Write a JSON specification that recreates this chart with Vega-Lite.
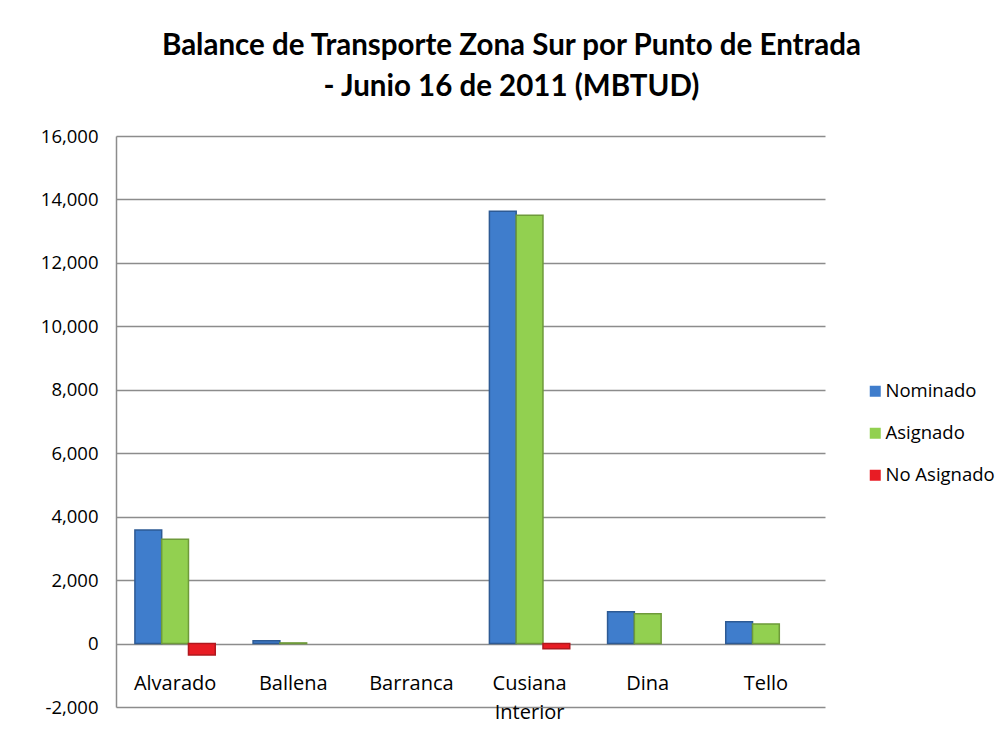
{
  "$schema": "https://vega.github.io/schema/vega-lite/v6.json",
  "width": 709,
  "height": 571,
  "autosize": {"type": "none"},
  "padding": {"left": 116, "top": 136, "right": 181, "bottom": 43},
  "background": "white",
  "title": {
    "text": ["Balance de Transporte Zona Sur por Punto de Entrada", "- Junio 16 de 2011 (MBTUD)"],
    "font": "Lato",
    "fontSize": 29.5,
    "fontWeight": "bold",
    "color": "#000000",
    "lineHeight": 41,
    "anchor": "middle",
    "frame": "group",
    "dx": 41,
    "offset": 25
  },
  "config": {
    "view": {"stroke": null},
    "axis": {"labelFont": "Open Sans", "labelColor": "#000000"}
  },
  "data": {
    "values": [
      {"punto": "Alvarado", "serie": "Nominado", "valor": 3580},
      {"punto": "Alvarado", "serie": "Asignado", "valor": 3290},
      {"punto": "Alvarado", "serie": "No Asignado", "valor": -360},
      {"punto": "Ballena", "serie": "Nominado", "valor": 90},
      {"punto": "Ballena", "serie": "Asignado", "valor": 20},
      {"punto": "Ballena", "serie": "No Asignado", "valor": 0},
      {"punto": "Barranca", "serie": "Nominado", "valor": 0},
      {"punto": "Barranca", "serie": "Asignado", "valor": 0},
      {"punto": "Barranca", "serie": "No Asignado", "valor": 0},
      {"punto": "Cusiana Interior", "serie": "Nominado", "valor": 13630},
      {"punto": "Cusiana Interior", "serie": "Asignado", "valor": 13500},
      {"punto": "Cusiana Interior", "serie": "No Asignado", "valor": -160},
      {"punto": "Dina", "serie": "Nominado", "valor": 1000},
      {"punto": "Dina", "serie": "Asignado", "valor": 940},
      {"punto": "Dina", "serie": "No Asignado", "valor": 0},
      {"punto": "Tello", "serie": "Nominado", "valor": 690},
      {"punto": "Tello", "serie": "Asignado", "valor": 620},
      {"punto": "Tello", "serie": "No Asignado", "valor": 0}
    ]
  },
  "mark": {"type": "bar", "strokeWidth": 1.5},
  "encoding": {
    "x": {
      "field": "punto",
      "type": "nominal",
      "sort": null,
      "scale": {"paddingInner": 0.32, "paddingOuter": 0.16},
      "axis": {
        "title": null,
        "labelAngle": 0,
        "domain": false,
        "ticks": false,
        "offset": -63.5,
        "labelPadding": 30,
        "labelFontSize": 20,
        "labelExpr": "split(datum.value, ' ')",
        "labelLineHeight": 29
      }
    },
    "xOffset": {
      "field": "serie",
      "type": "nominal",
      "sort": ["Nominado", "Asignado", "No Asignado"]
    },
    "y": {
      "field": "valor",
      "type": "quantitative",
      "scale": {"domain": [-2000, 16000], "nice": false, "zero": false},
      "axis": {
        "title": null,
        "values": [-2000, 0, 2000, 4000, 6000, 8000, 10000, 12000, 14000, 16000],
        "format": ",d",
        "labelExpr": "replace(datum.label, '\u2212', '-')",
        "grid": true,
        "gridColor": "#8c8c8c",
        "gridWidth": 1.5,
        "domainColor": "#8c8c8c",
        "domainWidth": 1.5,
        "ticks": false,
        "labelPadding": 18,
        "labelFontSize": 18.5
      }
    },
    "color": {
      "field": "serie",
      "type": "nominal",
      "sort": ["Nominado", "Asignado", "No Asignado"],
      "scale": {"domain": ["Nominado", "Asignado", "No Asignado"], "range": ["#3f7dcc", "#92d050", "#e81c24"]},
      "legend": {
        "title": null,
        "orient": "none",
        "legendX": 750,
        "legendY": 246,
        "symbolType": "square",
        "symbolSize": 121,
        "symbolStrokeWidth": 0,
        "labelFont": "Open Sans",
        "labelFontSize": 18.5,
        "labelColor": "#000000",
        "labelOffset": 1,
        "rowPadding": 23,
        "padding": 0
      }
    },
    "stroke": {
      "field": "serie",
      "type": "nominal",
      "scale": {"domain": ["Nominado", "Asignado", "No Asignado"], "range": ["#2d5a94", "#6e9a3a", "#b0181e"]},
      "legend": null
    },
    "strokeOpacity": {
      "condition": {"test": "datum.valor == 0", "value": 0},
      "value": 1
    }
  }
}
